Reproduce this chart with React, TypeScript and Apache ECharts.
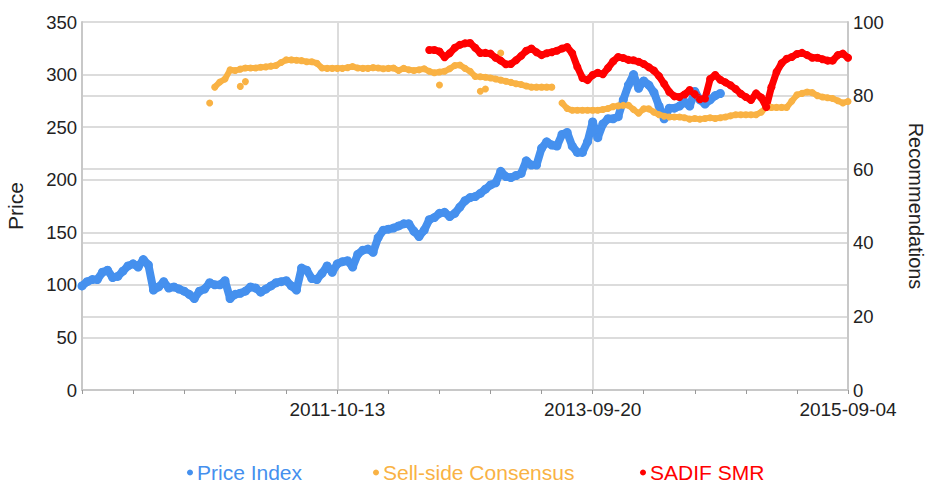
import React, { useEffect, useRef } from "react";
import * as echarts from "echarts";

// x positions are sample indices (one sample every XSTEP units on a 0..300 axis)
const XSTEP = 2;
const xTickLabels = ["", "2011-10-13", "2013-09-20", "2015-09-04"];
const priceTicks = [0, 50, 100, 150, 200, 250, 300, 350];
const recTicks = [0, 20, 40, 60, 80, 100];

const priceStart = 0;
const priceIndex = [
  99, 103, 105, 105, 112, 114, 107, 108, 113, 118, 120, 117, 124, 119, 95, 98, 103, 97, 98, 96,
  94, 91, 87, 94, 96, 102, 100, 100, 104, 87, 91, 92, 94, 98, 97, 93, 96, 99, 102, 103,
  104, 99, 95, 116, 114, 106, 105, 111, 118, 112, 120, 122, 123, 117, 129, 133, 134, 131, 145, 152,
  153, 154, 156, 158, 158, 151, 146, 152, 162, 164, 168, 169, 165, 168, 174, 180, 183, 184, 187, 191,
  195, 197, 208, 203, 202, 204, 206, 218, 214, 214, 230, 236, 233, 232, 243, 245, 232, 226, 226, 236,
  255, 240, 253, 258, 258, 260, 276, 290, 300, 287, 294, 290, 283, 270, 258, 268, 268, 270, 274, 270,
  284, 276, 272, 276, 280, 282,
];

// null = no rating published at that sample (the step where the consensus was re-based)
const consensusStart = 26;
const sellSideConsensus = [
  82.3, 83.7, 84.5, 87, 86.8, 87.2, 87.5, 87.5, 87.5, 87.7, 87.8, 88, 88.2, 89, 89.7, 89.7, 89.6, 89.5, 89.2,
  89.2, 88.8, 87.5, 87.4, 87.4, 87.4, 87.4, 87.6, 87.9, 87.5, 87.4, 87.4, 87.6, 87.5, 87.3, 87.4, 87.5, 86.8, 87.4, 87.0,
  86.8, 87.0, 87.3, 86.6, 86.2, 86.4, 86.6, 87.3, 88.2, 88.3, 87.4, 86.6, 85.2, 85.1, 85, 84.8, 84.5, 84.2, 83.9, 83.6,
  83.2, 83, 82.6, 82.3, 82.3, 82.3, 82.3, 82.3, null, 78, 76.5, 76, 76, 76, 76, 76, 76, 76.2, 76.5, 77,
  77.2, 77.4, 77.4, 76.2, 75.2, 76.4, 76.4, 75.5, 74.8, 74.4, 74.2, 74.2, 74.2, 74, 73.6, 73.8, 73.6, 73.8, 74, 73.8,
  74, 74.2, 74.5, 74.8, 74.8, 74.8, 74.8, 74.8, 75.5, 76.8, 76.8, 76.8, 76.8, 76.8, 78.5, 80.2, 80.6, 81, 80.8, 80,
  79.6, 79.4, 79.2, 78.6, 78.0, 78.4,
];
// isolated consensus readings: [sample index, value]
const consensusOutliers = [
  [25, 78],
  [31, 82.5],
  [32, 83.8],
  [70, 82.9],
  [78, 81.2],
  [79, 81.8],
  [82, 91.6],
];

const sadifStart = 68;
const sadifSMR = [
  92.4, 92.4, 92.0, 90.4, 91.5, 93.0, 93.8, 94.2, 94.3, 93, 91.6, 91.6, 91.4, 90.3, 89.5, 88.5, 88.6, 89.6, 90.8, 92.2,
  92.8, 91.8, 91.0, 91.5, 91.8, 92.2, 92.8, 93.2, 91.5, 87.8, 84.8, 84.2, 85.6, 86.2, 85.8, 87.5, 89.3, 90.5, 90.2, 89.7,
  89.6, 89.2, 88.6, 87.7, 86.8, 85.3, 83.2, 81.0, 79.8, 79.6, 80.3, 81.5, 80.4, 79, 79.2, 84.5, 85.6, 84.3, 83.6, 82.8,
  81.8, 80.5, 79.6, 78.8, 80.6, 79.5, 76.9, 82.3, 86.4, 88.8, 90.0, 90.5, 91.3, 91.6, 91.0, 90.3, 90.3, 89.9, 89.5, 89.5,
  91.0, 91.4, 90.3,
];

const seriesNames = ["Price Index", "Sell-side Consensus", "SADIF SMR"];
const colors = ["#4590EE", "#F9B244", "#FF0000"];
const legendLefts = [187, 373, 640];

const FONT = 'Arial, "Liberation Sans", Helvetica, sans-serif';

function toPoints(values: (number | null)[], start: number) {
  return values.map((v, i) => [(start + i) * XSTEP, v]);
}

function dotLine(name: string, color: string, yAxisIndex: number, data: any[], width: number) {
  return {
    name,
    type: "line",
    yAxisIndex,
    data,
    connectNulls: false,
    showSymbol: true,
    symbol: "circle",
    symbolSize: width + 1,
    itemStyle: { color },
    lineStyle: { color, width, cap: "round", join: "round" },
  };
}

export default function App() {
  const ref = useRef<HTMLDivElement>(null);
  useEffect(() => {
    if (!ref.current) return;
    const chart = echarts.init(ref.current, null, { renderer: "svg" });
    const gridColor = "#dcdcdc";
    const axisColor = "#c8c8c8";
    chart.setOption({
      animation: false,
      backgroundColor: "#ffffff",
      textStyle: { fontFamily: FONT },
      grid: {
        left: 82,
        right: 80,
        top: 22,
        bottom: 94,
        containLabel: false,
        outerBoundsMode: "none",
      },
      legend: seriesNames.map((n, k) => ({
        top: 462,
        left: legendLefts[k],
        padding: 0,
        icon: "circle",
        itemWidth: 6,
        itemHeight: 6,
        itemGap: 0,
        selectedMode: false,
        textStyle: { fontSize: 21, fontFamily: FONT, color: colors[k], padding: [0, 0, 0, -1] },
        data: [n],
      })),
      xAxis: {
        type: "value",
        min: 0,
        max: 300,
        interval: 100,
        axisLine: { show: true, onZero: false, lineStyle: { color: axisColor, width: 2 } },
        axisTick: { show: true, length: 4, lineStyle: { color: "#999" } },
        minorTick: { show: true, splitNumber: 5, length: 4, lineStyle: { color: "#999" } },
        splitLine: { show: true, lineStyle: { color: gridColor, width: 2 } },
        axisLabel: {
          color: "#222",
          fontSize: 19,
          margin: 10,
          fontFamily: FONT,
          formatter: (v: number) => xTickLabels[Math.round(v / 100)] ?? "",
        },
      },
      yAxis: [
        {
          type: "value",
          min: priceTicks[0],
          max: priceTicks[priceTicks.length - 1],
          interval: 50,
          name: "Price",
          nameLocation: "middle",
          nameRotate: 90,
          nameGap: 56,
          nameTextStyle: { fontSize: 21, color: "#222", fontFamily: FONT },
          axisLine: { show: true, lineStyle: { color: axisColor, width: 2 } },
          axisTick: { show: false },
          splitLine: { show: true, lineStyle: { color: gridColor, width: 2 } },
          axisLabel: { color: "#222", fontSize: 18.5, margin: 5, fontFamily: FONT },
        },
        {
          type: "value",
          min: recTicks[0],
          max: recTicks[recTicks.length - 1],
          interval: 20,
          name: "Recommendations",
          nameLocation: "middle",
          nameRotate: -90,
          nameGap: 58,
          nameTextStyle: { fontSize: 20, color: "#222", fontFamily: FONT },
          axisLine: { show: true, lineStyle: { color: axisColor, width: 2 } },
          axisTick: { show: false },
          splitLine: { show: true, lineStyle: { color: gridColor, width: 2 } },
          axisLabel: { color: "#222", fontSize: 18.5, margin: 5, fontFamily: FONT },
        },
      ],
      series: [
        dotLine(seriesNames[0], colors[0], 0, toPoints(priceIndex, priceStart), 8),
        dotLine(seriesNames[1], colors[1], 1, toPoints(sellSideConsensus, consensusStart), 6),
        {
          name: seriesNames[1],
          type: "scatter",
          yAxisIndex: 1,
          symbolSize: 7,
          itemStyle: { color: colors[1], opacity: 1 },
          data: consensusOutliers.map(([i, v]) => [i * XSTEP, v]),
        },
        dotLine(seriesNames[2], colors[2], 1, toPoints(sadifSMR, sadifStart), 7),
      ],
    });
    return () => chart.dispose();
  }, []);
  return (
    <div
      ref={ref}
      style={{ position: "fixed", left: 0, top: 0, width: 928, height: 484 }}
    />
  );
}
